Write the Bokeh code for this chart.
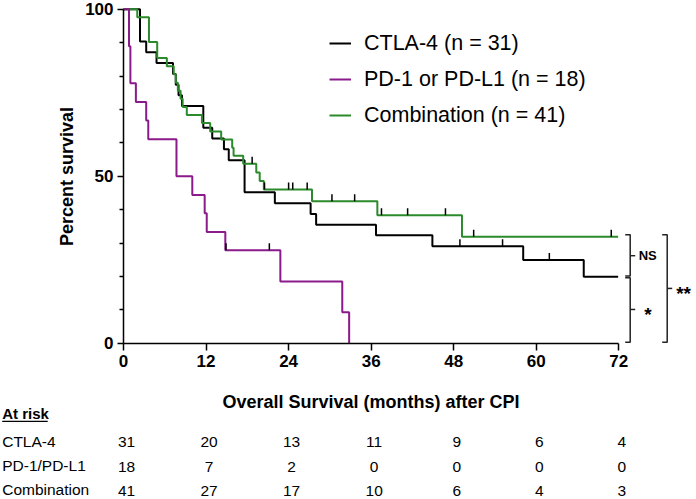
import math
from bokeh.plotting import figure
from bokeh.models import (Range1d, FixedTicker, Legend, LegendItem, ColumnDataSource)
from bokeh.core.properties import value
from bokeh.embed import file_html
from bokeh.resources import INLINE

FONT = "Liberation Sans"

# ---------------- data ----------------
# Kaplan-Meier step points: time (months) and survival (%) after each step
ctla_t = [0, 2.4, 3.3, 4.8, 7.2, 7.6, 8.0, 8.5, 11.6, 12.9, 14.6, 15.3, 17.6, 22.0,
          27.2, 28.0, 36.7, 44.9, 58.1, 66.9, 71.9]
ctla_s = [100, 90.3, 87.1, 83.9, 80.6, 77.4, 74.2, 71.0, 64.5, 61.3, 58.1, 54.8, 45.2,
          41.9, 38.7, 35.5, 32.3, 29.0, 24.9, 19.9, 19.9]
ctla_cens_t = [48.9, 55.1, 61.9]
ctla_cens_s = [29.0, 29.0, 24.9]

pd_t = [0, 0.8, 1.0, 1.8, 3.3, 3.6, 7.7, 10.0, 11.8, 12.1, 14.8, 22.8, 31.8, 32.8]
pd_s = [100, 88.9, 77.8, 72.2, 66.7, 61.1, 50.0, 44.4, 38.9, 33.3, 27.8, 18.5, 9.3, 0]
pd_cens_t = [14.9, 21.2]
pd_cens_s = [27.8, 27.8]

comb_t = [0, 2.0, 3.7, 4.9, 6.3, 7.3, 7.6, 7.9, 8.3, 8.6, 9.2, 11.4, 12.6, 14.2, 15.8,
          16.0, 17.4, 19.3, 19.8, 20.4, 27.4, 36.9, 49.2, 71.9]
comb_s = [100, 97.6, 90.2, 85.4, 82.9, 80.5, 78.0, 75.6, 73.2, 70.7, 68.3, 65.9, 63.4,
          61.0, 58.5, 56.1, 53.7, 51.1, 48.6, 46.0, 42.5, 38.3, 31.9, 31.9]
comb_cens_t = [18.7, 20.5, 24.0, 24.6, 26.7, 30.3, 33.6, 37.5, 41.3, 46.8, 50.9, 70.9]
comb_cens_s = [53.7, 46.0, 46.0, 46.0, 46.0, 42.5, 42.5, 38.3, 38.3, 38.3, 31.9, 31.9]

series_labels = ["CTLA-4 (n = 31)", "PD-1 or PD-L1 (n = 18)", "Combination (n = 41)"]
series_colors = ["#000000", "#8b1a8b", "#2b8a2b"]

x_ticks = [0, 12, 24, 36, 48, 60, 72]
y_ticks = [0, 50, 100]
y_minor = [10, 20, 30, 40, 60, 70, 80, 90]

risk_title = "At risk"
risk_rows = ["CTLA-4", "PD-1/PD-L1", "Combination"]
risk_ctla = [31, 20, 13, 11, 9, 6, 4]
risk_pd = [18, 7, 2, 0, 0, 0, 0]
risk_comb = [41, 27, 17, 10, 6, 4, 3]

sig_labels = ["NS", "*", "**"]

# ---------------- layout constants (pixels) ----------------
W, H = 694, 497
LEFT = 123.0          # x pixel of month 0
X_END = 83.0          # month at right canvas edge
SX = (W - LEFT) / X_END
Y0 = 342.7            # y pixel of 0 %
SY = 3.34             # pixels per percent
ROW_PX = [413.3, 440.7, 465.0, 489.0]   # at-risk table rows (title + 3 rows)

def mx(px):           # pixel column -> months
    return (px - LEFT) / SX

def sy(py):           # pixel row -> percent
    return (Y0 - py) / SY

p = figure(width=W, height=H, x_range=Range1d(mx(0), X_END),
           y_range=Range1d(sy(H), sy(0)), output_backend="svg", toolbar_location=None,
           min_border_left=0, min_border_right=0, min_border_top=0, min_border_bottom=0)
p.outline_line_color = None
p.grid.visible = False
p.background_fill_color = "white"
p.border_fill_color = "white"

xa = p.xaxis[0]
xa.fixed_location = 0
xa.ticker = FixedTicker(ticks=x_ticks, minor_ticks=[])
xa.bounds = (0, 72)
xa.axis_label = "Overall Survival (months) after CPI"
ya = p.yaxis[0]
ya.fixed_location = 0
ya.ticker = FixedTicker(ticks=y_ticks, minor_ticks=y_minor)
ya.bounds = (0, 100)
ya.axis_label = "Percent survival"
for ax in (xa, ya):
    ax.axis_line_width = 1.5
    ax.axis_line_color = "black"
    ax.major_tick_line_width = 1.5
    ax.minor_tick_line_width = 1.5
    ax.major_tick_line_color = "black"
    ax.minor_tick_line_color = "black"
    ax.major_tick_in = 0
    ax.minor_tick_in = 0
    ax.major_label_text_font = FONT
    ax.major_label_text_font_style = "bold"
    ax.major_label_text_font_size = "17px"
    ax.major_label_text_color = "black"
    ax.axis_label_text_font = FONT
    ax.axis_label_text_font_style = "bold"
    ax.axis_label_text_font_size = "18px"
    ax.axis_label_text_color = "black"
xa.major_tick_out = 7
xa.minor_tick_out = 0
xa.major_label_standoff = 5
xa.axis_label_standoff = 21
ya.major_tick_out = 6
ya.minor_tick_out = 4
ya.major_label_standoff = 4
ya.axis_label_standoff = 5

curves = [(ctla_t, ctla_s, ctla_cens_t, ctla_cens_s),
          (pd_t, pd_s, pd_cens_t, pd_cens_s),
          (comb_t, comb_s, comb_cens_t, comb_cens_s)]
line_renderers = []
for (t, s, ct, cs), col in zip(curves, series_colors):
    line_renderers.append(p.step(t, s, mode="after", line_color=col, line_width=2))
p.renderers = [line_renderers[i] for i in (0, 2, 1)]
for (t, s, ct, cs) in curves:
    p.ray(x=ct, y=cs, length=7, length_units="screen", angle=90, angle_units="deg",
          line_color="black", line_width=1.5)

items = []
for lab, r in zip(series_labels, line_renderers):
    tick = p.scatter([], [], marker="dash", angle=math.pi / 2, line_color="black",
                     line_width=1.5, size=8)
    items.append(LegendItem(label=lab, renderers=[r, tick]))
LEG_LEFT, LEG_TOP, LEG_SP, LEG_IH = 329, 30, 10, 26
LEG_H = 3 * LEG_IH + 2 * LEG_SP
legend = Legend(items=items, location=(LEG_LEFT, H - LEG_TOP - LEG_H), glyph_width=22,
                glyph_height=LEG_IH, label_height=LEG_IH, spacing=LEG_SP, padding=0,
                margin=0, label_standoff=13, border_line_color=None,
                background_fill_alpha=0, label_text_font=FONT,
                label_text_font_size="21.5px", label_text_color="black")
p.add_layout(legend)

# significance brackets
ends = [comb_s[-1], ctla_s[-1], pd_s[-1]]
bx1, bx2, cap = mx(629.7), mx(666.7), 5 / SX
top, mid, bot = ends[0] + 0.6, ends[1], ends[2] + 0.3
nsm, sm, bm = (top + mid) / 2, (mid + bot) / 2, (top + bot) / 2
br_xs = [[bx1 - cap, bx1, bx1, bx1 - cap], [bx1, bx1 + cap],
         [bx1 - cap, bx1, bx1, bx1 - cap], [bx1, bx1 + cap],
         [bx2 - cap, bx2, bx2, bx2 - cap], [bx2, bx2 + cap]]
br_ys = [[top, top, mid + 0.2, mid + 0.2], [nsm, nsm],
         [mid - 0.3, mid - 0.3, bot, bot], [sm, sm],
         [top, top, bot, bot], [bm, bm]]
p.multi_line(br_xs, br_ys, line_color="#222222", line_width=1.5)
p.text(x=[bx1 + cap + 3.5 / SX], y=[nsm], text=[sig_labels[0]], text_font=value(FONT),
       text_font_style="bold", text_font_size="13px", text_baseline="middle",
       text_color="black")
p.text(x=[bx1 + cap + 9 / SX, bx2 + cap + 4 / SX], y=[sm, bm], text=sig_labels[1:],
       text_font=value(FONT), text_font_style="bold", text_font_size="19px",
       text_baseline="middle", y_offset=5, text_color="black")

# at-risk table
label_x = mx(1.7)
row_y = [sy(v) for v in ROW_PX]
p.text(x=[label_x], y=[row_y[0]], text=[risk_title], text_font=value(FONT),
       text_font_style="bold", text_font_size="15px", text_baseline="middle",
       text_color="black")
ul_y = sy(ROW_PX[0] + 7.5)
p.line([label_x, label_x + 45.5 / SX], [ul_y, ul_y], line_color="black", line_width=1.3)

names_src = ColumnDataSource(dict(x=[label_x] * 3, y=row_y[1:], text=risk_rows))
p.text(x="x", y="y", text="text", source=names_src, text_font=value(FONT),
       text_font_size="15.5px", text_baseline="middle", text_color="black")

nx, ny, nt = [], [], []
for row, counts in enumerate([risk_ctla, risk_pd, risk_comb], start=1):
    for tk, c in zip(x_ticks, counts):
        nx.append(tk + 3 / SX)
        ny.append(row_y[row])
        nt.append(str(c))
num_src = ColumnDataSource(dict(x=nx, y=ny, text=nt))
p.text(x="x", y="y", text="text", source=num_src, text_font=value(FONT),
       text_font_size="15.5px", text_align="center", text_baseline="middle",
       y_offset=1, text_color="black")

open("out.html", "w").write(file_html(p, INLINE))
